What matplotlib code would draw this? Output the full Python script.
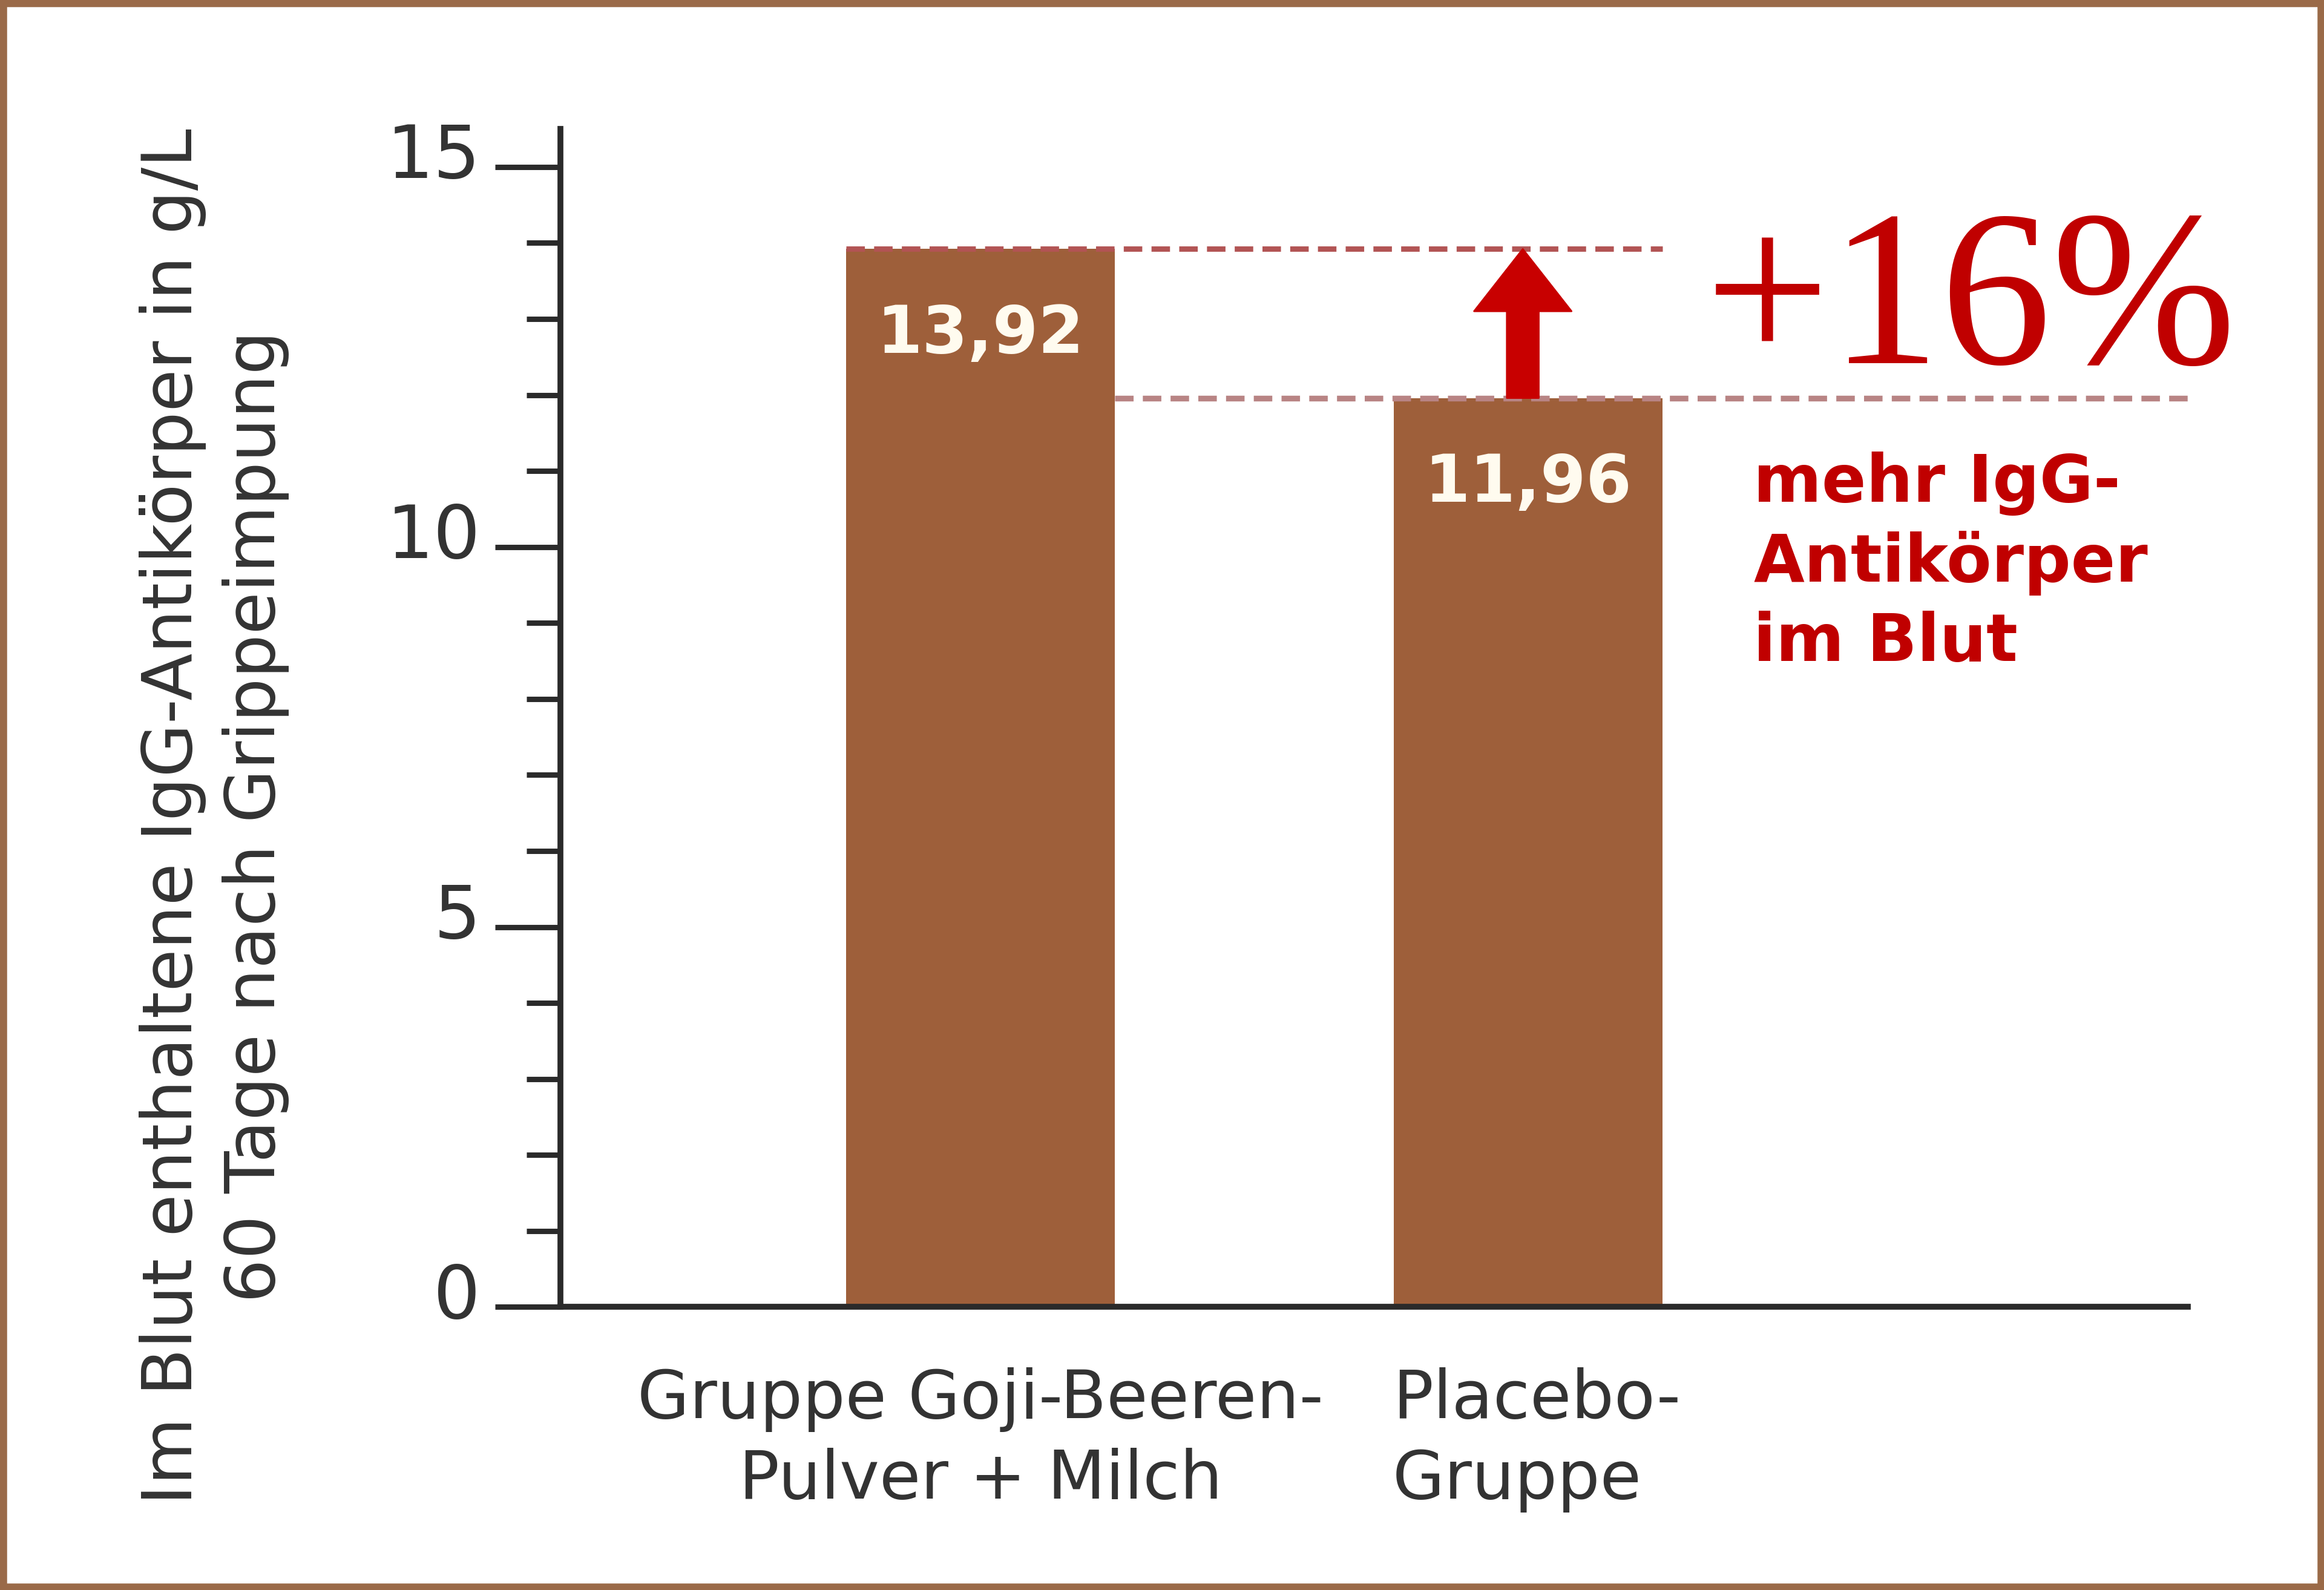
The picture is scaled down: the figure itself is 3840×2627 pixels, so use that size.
import matplotlib
matplotlib.use("Agg")
import matplotlib.pyplot as plt
from matplotlib.patches import Rectangle
from matplotlib.ticker import MultipleLocator
from matplotlib.transforms import ScaledTranslation

# Daten
gruppen = ["Gruppe Goji-Beeren-\nPulver + Milch", "Placebo-\nGruppe"]
werte = [13.92, 11.96]
wert_labels = ["13,92", "11,96"]
y_ticks = [0, 5, 10, 15]
plus_text = "+16%"
hinweis = "mehr IgG-\nAntikörper\nim Blut"
y_label = "Im Blut enthaltene IgG-Antikörper in g/L\n60 Tage nach Grippeimpung"

braun = "#9e5f3a"
rot = "#c00000"
dunkel = "#2a2a2a"

plt.rcParams["font.family"] = "DejaVu Sans"
plt.rcParams["lines.scale_dashes"] = False

fig = plt.figure(figsize=(19.2, 13.135), dpi=200)
fig.patch.set_facecolor("white")
fig.patches.append(Rectangle((0.0013, 0.002), 0.9974, 0.996, transform=fig.transFigure,
                             fill=False, edgecolor="#9a6a48", linewidth=4.5))

ax = fig.add_axes([0.2411, 0.178, 0.7003, 0.7409])
ax.set_facecolor("none")

x = [0, 1]
breite = 0.49
ax.bar(x, werte, width=breite, color=braun, zorder=2)

ax.set_xlim(-0.767, 2.204)
ax.set_ylim(0, 15.5)

# gestrichelte Linien
ax.plot([x[0] - breite / 2, x[1] + breite / 2], [werte[0], werte[0]], color="#b25454",
        linewidth=3.2, dashes=(11, 5.5), zorder=3)
ax.plot([x[0] + breite / 2, 2.204], [werte[1], werte[1]], color="#b88484",
        linewidth=3.4, dashes=(11, 5.5), zorder=3, clip_on=False)

# Pfeil
ax.annotate("", xy=(0.99, werte[0]), xytext=(0.99, werte[1]),
            arrowprops=dict(arrowstyle="simple,head_length=37,head_width=58,tail_width=19",
                            mutation_scale=1, color="#c80000", shrinkA=0, shrinkB=0), zorder=4)

# Werte in den Balken
for xi, w, lab in zip(x, werte, wert_labels):
    ax.annotate(lab, xy=(xi, w), xytext=(0, -32), textcoords="offset points",
                ha="center", va="top", fontsize=39, fontweight="bold", color="#fffbef", zorder=5)

# +16%
fig.text(0.7335, 0.7716, plus_text, fontsize=132, family="Liberation Serif", color=rot,
         ha="left", va="baseline")
fig.text(0.7545, 0.716, hinweis, fontsize=39, fontweight="bold", color=rot,
         ha="left", va="top", linespacing=1.3)

# Achsen
for s in ["top", "right"]:
    ax.spines[s].set_visible(False)
for s in ["left", "bottom"]:
    ax.spines[s].set_color(dunkel)
    ax.spines[s].set_linewidth(3.5)
    ax.spines[s].set_zorder(6)

ax.set_yticks(y_ticks)
ax.yaxis.set_minor_locator(MultipleLocator(1))
ax.tick_params(axis="y", which="major", length=39, width=3.2, color=dunkel, pad=8.5,
               labelsize=44, labelcolor="#333333")
ax.tick_params(axis="y", which="minor", length=20, width=3.2, color=dunkel)
hoch = ScaledTranslation(0, 10 / 72, fig.dpi_scale_trans)
for t in ax.get_yticklabels():
    t.set_transform(t.get_transform() + hoch)

ax.set_xticks(x)
ax.set_xticklabels(gruppen)
ax.tick_params(axis="x", length=0, pad=36, labelsize=40, labelcolor="#333333")
for t, ma in zip(ax.get_xticklabels(), ["center", "left"]):
    t.set_multialignment(ma)
    t.set_linespacing(1.3)
rechts = ScaledTranslation(5 / 72, 0, fig.dpi_scale_trans)
ax.get_xticklabels()[1].set_transform(ax.get_xticklabels()[1].get_transform() + rechts)

fig.text(0.0922, 0.4865, y_label, rotation=90, fontsize=41, color="#333333",
         ha="center", va="center", multialignment="center", linespacing=1.3)

fig.savefig("out.png", dpi=200, facecolor=fig.get_facecolor())
